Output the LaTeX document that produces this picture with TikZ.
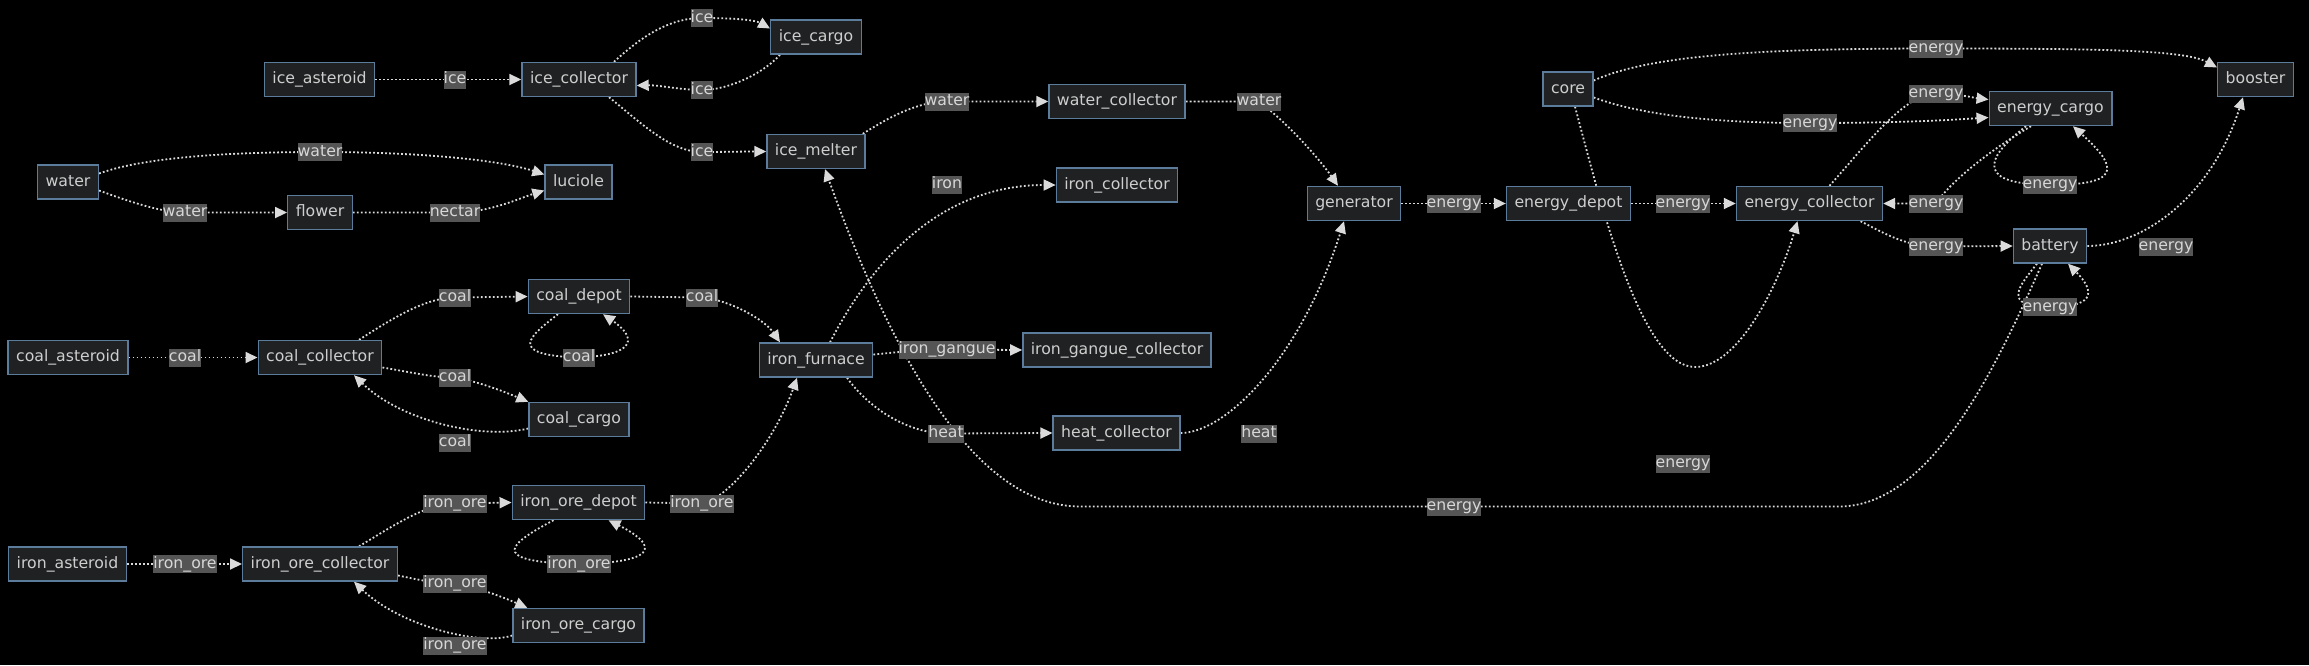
\documentclass[tikz,border=0pt]{standalone}
\usepackage{fontspec}
\setmainfont{DejaVu Sans}
\usetikzlibrary{arrows.meta}
\definecolor{nodefill}{RGB}{31,33,34}
\definecolor{nodeline}{RGB}{92,124,156}
\definecolor{nodetext}{RGB}{206,206,206}
\definecolor{edgec}{RGB}{218,218,218}
\definecolor{lblfill}{RGB}{85,85,85}
\definecolor{lbltext}{RGB}{215,215,215}
\pgfdeclarelayer{bg}\pgfdeclarelayer{edges}\pgfsetlayers{bg,edges,main}
\begin{document}
\begin{tikzpicture}[x=1pt,y=-1pt,
 box/.style={draw=nodeline, fill=nodefill, text=nodetext, line width=1.4pt, inner xsep=8pt, inner ysep=0pt, text height=12pt, text depth=4pt, minimum height=34pt, font=\fontsize{15.7}{18}\selectfont},
 lbl/.style={fill=lblfill, text=lbltext, inner xsep=0pt, inner ysep=1pt, text height=12pt, text depth=4pt, font=\fontsize{15.7}{18}\selectfont},
 edge/.style={draw=edgec, line width=1.8pt, dash pattern=on 1.8pt off 2.2pt, -{Triangle[length=12pt,width=11pt]}}]
\useasboundingbox (0,0) rectangle (2309,665);
\begin{pgfonlayer}{bg}
\fill[black] (0,0) rectangle (2309,665);
\end{pgfonlayer}
% nodes
\node[box] (water) at (68,182) {water};
\node[box] (flower) at (320,212.5) {flower};
\node[box] (luciole) at (578.5,182) {luciole};
\node[box] (ice_asteroid) at (319.5,79.5) {ice\_asteroid};
\node[box] (ice_collector) at (579,79.5) {ice\_collector};
\node[box] (ice_cargo) at (816,37) {ice\_cargo};
\node[box] (ice_melter) at (816,151.5) {ice\_melter};
\node[box] (water_collector) at (1117,101.5) {water\_collector};
\node[box] (iron_collector) at (1117,185) {iron\_collector};
\node[box] (generator) at (1354,203.5) {generator};
\node[box] (coal_asteroid) at (68,357.5) {coal\_asteroid};
\node[box] (coal_collector) at (320,357.5) {coal\_collector};
\node[box] (coal_depot) at (579,296.5) {coal\_depot};
\node[box] (coal_cargo) at (579,419.5) {coal\_cargo};
\node[box] (iron_furnace) at (816,360) {iron\_furnace};
\node[box] (iron_gangue_collector) at (1117,350) {iron\_gangue\_collector};
\node[box] (heat_collector) at (1116.5,433) {heat\_collector};
\node[box] (iron_asteroid) at (67.5,564) {iron\_asteroid};
\node[box] (iron_ore_collector) at (320,564) {iron\_ore\_collector};
\node[box] (iron_ore_depot) at (578.5,502.5) {iron\_ore\_depot};
\node[box] (iron_ore_cargo) at (578.5,625.5) {iron\_ore\_cargo};
\node[box] (core) at (1568,89) {core};
\node[box] (energy_depot) at (1568.5,203.5) {energy\_depot};
\node[box] (energy_collector) at (1809.5,203.5) {energy\_collector};
\node[box] (energy_cargo) at (2050.5,108.5) {energy\_cargo};
\node[box] (booster) at (2255.5,79.5) {booster};
\node[box] (battery) at (2050,246) {battery};
% labels
\node[lbl] (l1) at (455,79.5) {ice};
\node[lbl] (l2) at (702,18) {ice};
\node[lbl] (l3) at (702,90) {ice};
\node[lbl] (l4) at (702,152) {ice};
\node[lbl] (l5) at (320,152) {water};
\node[lbl] (l6) at (185,212.5) {water};
\node[lbl] (l7) at (455,212.5) {nectar};
\node[lbl] (l8) at (185,357.5) {coal};
\node[lbl] (l9) at (455,297.5) {coal};
\node[lbl] (l10) at (579,357.5) {coal};
\node[lbl] (l11) at (702,297.5) {coal};
\node[lbl] (l12) at (455,377.5) {coal};
\node[lbl] (l13) at (455,442.5) {coal};
\node[lbl] (l14) at (185,564) {iron\_ore};
\node[lbl] (l15) at (455,503.5) {iron\_ore};
\node[lbl] (l16) at (579,564) {iron\_ore};
\node[lbl] (l17) at (702,503.5) {iron\_ore};
\node[lbl] (l18) at (455,583.5) {iron\_ore};
\node[lbl] (l19) at (455,645.5) {iron\_ore};
\node[lbl] (l20) at (947,101.5) {water};
\node[lbl] (l21) at (1259,101.5) {water};
\node[lbl] (l22) at (947,184.5) {iron};
\node[lbl] (l23) at (947,349.5) {iron\_gangue};
\node[lbl] (l24) at (946,433.5) {heat};
\node[lbl] (l25) at (1259,433.5) {heat};
\node[lbl] (l26) at (1454,203.5) {energy};
\node[lbl] (l27) at (1683,203.5) {energy};
\node[lbl] (l28) at (1936,48.5) {energy};
\node[lbl] (l29) at (1810,123) {energy};
\node[lbl] (l30) at (1936,93.5) {energy};
\node[lbl] (l31) at (1936,203.5) {energy};
\node[lbl] (l32) at (2050,184.5) {energy};
\node[lbl] (l33) at (1936,246.5) {energy};
\node[lbl] (l34) at (2166,246.5) {energy};
\node[lbl] (l35) at (2050,307) {energy};
\node[lbl] (l36) at (1454,506.5) {energy};
\node[lbl] (l37) at (1683,463.5) {energy};
% edges
\begin{pgfonlayer}{edges}
\draw[edge] (ice_asteroid.east) -- (ice_collector.west);
\draw[edge] ([xshift=35pt]ice_collector.north) .. controls (640,38) and (668,18) .. (l2.center) .. controls (735,18) and (755,20) .. ([yshift=8.5pt]ice_cargo.west);
\draw[edge] ([xshift=-36pt]ice_cargo.south) .. controls (765,72) and (730,90) .. (l3.center) .. controls (680,90) and (660,85) .. ([yshift=-6pt]ice_collector.east);
\draw[edge] ([xshift=30pt]ice_collector.south) .. controls (640,122) and (670,152) .. (l4.center) .. controls (722,152) and (745,151.5) .. (ice_melter.west);
\draw[edge] ([yshift=8.5pt]water.east) .. controls (150,155) and (250,152) .. (l5.center) .. controls (420,152) and (500,160) .. ([yshift=7.5pt]luciole.west);
\draw[edge] ([yshift=-8.5pt]water.east) .. controls (125,200) and (160,212.5) .. (l6.center) -- (flower.west);
\draw[edge] (flower.east) -- (l7.center) .. controls (490,212.5) and (520,198) .. ([yshift=-8.5pt]luciole.west);
\draw[edge] (coal_asteroid.east) -- (coal_collector.west);
\draw[edge] ([xshift=39pt]coal_collector.north) .. controls (390,320) and (425,297.5) .. (l9.center) -- (coal_depot.west);
\draw[edge] ([xshift=-21pt]coal_depot.south) .. controls (530,336) and (505,355) .. (l10.center) .. controls (640,355) and (635,336) .. ([xshift=24pt]coal_depot.south);
\draw[edge] (coal_depot.east) -- (l11.center) .. controls (730,300) and (765,320) .. ([xshift=-36pt]iron_furnace.north);
\draw[edge] ([yshift=-10pt]coal_collector.east) .. controls (410,372) and (432,377.5) .. (l12.center) .. controls (480,382) and (505,392) .. (coal_cargo.north west);
\draw[edge] ([yshift=-9pt]coal_cargo.west) .. controls (480,440) and (400,420) .. ([xshift=34pt]coal_collector.south);
\draw[edge] (iron_asteroid.east) -- (iron_ore_collector.west);
\draw[edge] ([xshift=39pt]iron_ore_collector.north) .. controls (390,528) and (425,503.5) .. (l15.center) -- (iron_ore_depot.west);
\draw[edge] ([xshift=-25pt]iron_ore_depot.south) .. controls (515,541) and (480,562) .. (l16.center) .. controls (670,562) and (650,541) .. ([xshift=30pt]iron_ore_depot.south);
\draw[edge] (iron_ore_depot.east) -- (l17.center) .. controls (730,498) and (775,440) .. ([xshift=-19pt]iron_furnace.south);
\draw[edge] ([yshift=-11.5pt]iron_ore_collector.east) .. controls (420,580) and (435,583.5) .. (l18.center) .. controls (480,588) and (505,598) .. ([xshift=15pt]iron_ore_cargo.north west);
\draw[edge] ([yshift=-10pt]iron_ore_cargo.west) .. controls (480,646) and (400,626) .. ([xshift=34pt]iron_ore_collector.south);
\draw[edge] ([xshift=-3pt]ice_melter.north east) .. controls (885,120) and (915,101.5) .. (l20.center) -- (water_collector.west);
\draw[edge] (water_collector.east) .. controls (1215,101.5) and (1240,101.5) .. (l21.center) .. controls (1290,125) and (1320,160) .. ([xshift=-16pt]generator.north);
\draw[edge] ([xshift=14pt]iron_furnace.north) .. controls (875,255) and (945,185) .. (iron_collector.west);
\draw[edge] ([yshift=5.5pt]iron_furnace.east) .. controls (900,352) and (920,349.5) .. (l23.center) -- (iron_gangue_collector.west);
\draw[edge] ([xshift=31pt]iron_furnace.south) .. controls (870,410) and (910,433.5) .. (l24.center) -- (heat_collector.west);
\draw[edge] (heat_collector.east) .. controls (1225,433) and (1300,360) .. ([xshift=-10pt]generator.south);
\draw[edge] (generator.east) -- (energy_depot.west);
\draw[edge] (energy_depot.east) -- (energy_collector.west);
\draw[edge] ([yshift=8.5pt]core.east) .. controls (1650,55) and (1760,48.5) .. (l28.center) .. controls (2100,48.5) and (2185,50) .. ([yshift=12pt]booster.west);
\draw[edge] ([yshift=-8.5pt]core.east) .. controls (1650,118) and (1730,123) .. (l29.center) .. controls (1900,123) and (1950,120) .. ([yshift=-9pt]energy_cargo.west);
\draw[edge] ([xshift=20pt]energy_collector.north) .. controls (1870,140) and (1905,94) .. (l30.center) .. controls (1960,94) and (1975,98) .. ([yshift=9pt]energy_cargo.west);
\draw[edge] ([xshift=-19.5pt]energy_cargo.south) .. controls (1990,150) and (1950,182) .. (l31.center) -- (energy_collector.east);
\draw[edge] ([xshift=-24.5pt]energy_cargo.south) .. controls (1982,160) and (1978,185) .. (l32.center) .. controls (2132,186) and (2110,160) .. ([xshift=22.5pt]energy_cargo.south);
\draw[edge] ([xshift=51pt]energy_collector.south) .. controls (1882,232) and (1905,246.5) .. (l33.center) -- (battery.west);
\draw[edge] (battery.east) .. controls (2140,246) and (2210,200) .. ([xshift=-12.5pt]booster.south);
\draw[edge] ([xshift=-13pt]battery.south) .. controls (2020,285) and (2000,307) .. (l35.center) .. controls (2100,307) and (2092,288) .. ([xshift=18pt]battery.south);
\draw[edge] ([xshift=-8pt]battery.south) .. controls (1995,370) and (1930,506.5) .. (1839,506.5) -- (l36.center) -- (1080,506.5) .. controls (1000,506.5) and (915,420) .. ([xshift=9pt]ice_melter.south);
\draw[edge] ([xshift=7pt]core.south) .. controls (1600,200) and (1640,367) .. (1695,367) .. controls (1740,367) and (1780,280) .. ([xshift=-12pt]energy_collector.south);
\end{pgfonlayer}
\end{tikzpicture}
\end{document}
